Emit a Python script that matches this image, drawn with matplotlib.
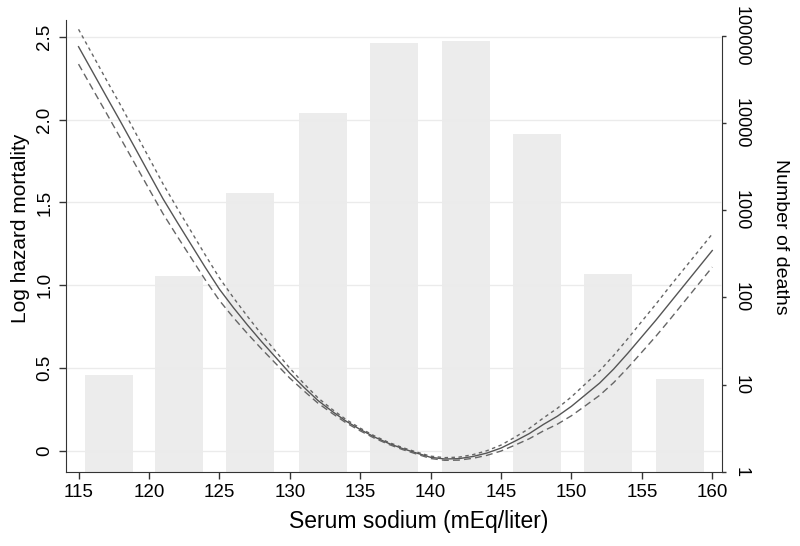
import numpy as np
import matplotlib
matplotlib.use("Agg")
import matplotlib.pyplot as plt

plt.rcParams['font.family'] = ['Liberation Sans', 'DejaVu Sans']

# spline estimate of log hazard vs serum sodium
sodium = list(range(115, 161))
log_hazard = [2.44, 2.288, 2.136, 1.985, 1.831, 1.676, 1.522, 1.382, 1.245, 1.108,
              0.977, 0.865, 0.76, 0.66, 0.565, 0.47, 0.385, 0.305, 0.24, 0.18,
              0.13, 0.085, 0.047, 0.015, -0.012, -0.038, -0.048, -0.046, -0.033, -0.012,
              0.018, 0.06, 0.105, 0.16, 0.21, 0.27, 0.34, 0.41, 0.495, 0.59,
              0.69, 0.79, 0.895, 1.0, 1.105, 1.21]
upper_ci = [2.545, 2.391, 2.236, 2.085, 1.928, 1.770, 1.612, 1.467, 1.325, 1.183,
            1.045, 0.925, 0.812, 0.704, 0.602, 0.50, 0.407, 0.321, 0.252, 0.19,
            0.138, 0.092, 0.053, 0.021, -0.006, -0.031, -0.040, -0.037, -0.022, 0.002,
            0.036, 0.084, 0.136, 0.199, 0.258, 0.327, 0.406, 0.484, 0.577, 0.678,
            0.783, 0.887, 0.995, 1.10, 1.205, 1.31]
lower_ci = [2.335, 2.185, 2.036, 1.885, 1.734, 1.582, 1.432, 1.297, 1.165, 1.033,
            0.909, 0.805, 0.708, 0.616, 0.528, 0.44, 0.363, 0.289, 0.228, 0.17,
            0.122, 0.078, 0.041, 0.009, -0.018, -0.045, -0.056, -0.055, -0.044, -0.026,
            0.0, 0.036, 0.074, 0.121, 0.162, 0.213, 0.274, 0.336, 0.413, 0.502,
            0.597, 0.693, 0.795, 0.90, 1.005, 1.11]

# histogram of deaths by sodium bin
bin_centers = [117.15, 122.15, 127.2, 132.35, 137.4, 142.5, 147.55, 152.6, 157.7]
deaths = [13, 177, 1590, 12900, 82000, 87000, 7400, 186, 11.5]

fig = plt.figure(figsize=(8, 5.46), dpi=100)
ax = fig.add_axes([0.0825, 0.136, 0.82, 0.827])
ax2 = ax.twinx()
ax.set_zorder(ax2.get_zorder() + 1)
ax.patch.set_visible(False)

ax2.bar(bin_centers, np.array(deaths) - 1, bottom=1, width=3.4,
        color='#ececec', edgecolor='none')
ax2.set_yscale('log')
ax2.set_ylim(1, 10 ** 5.18)
ax2.set_yticks([1, 10, 100, 1000, 10000, 100000])
ax2.set_yticklabels(['1', '10', '100', '1000', '10000', '100000'],
                    rotation=-90, va='center', fontsize=13)
ax2.minorticks_off()
ax2.set_ylabel('Number of deaths', rotation=-90, fontsize=14, labelpad=28)
ax2.yaxis.label.set_y(0.52)
ax2.spines['right'].set_bounds(1, 100000)

for v in [0, 0.5, 1.0, 1.5, 2.0, 2.5]:
    ax.axhline(v, color='#ebebeb', lw=1, zorder=0)

ax.plot(sodium, upper_ci, color='#666666', lw=1, ls=(0, (2.5, 2.5)))
ax.plot(sodium, log_hazard, color='#555555', lw=1)
ax.plot(sodium, lower_ci, color='#666666', lw=1, ls=(0, (5, 3)))

ax.set_xlim(114.11, 160.69)
ax.set_ylim(-0.125, 2.6)
ax.set_xticks(range(115, 161, 5))
ax.set_yticks([0, 0.5, 1.0, 1.5, 2.0, 2.5])
ax.set_yticklabels(['0', '0.5', '1.0', '1.5', '2.0', '2.5'],
                   rotation=90, va='center', fontsize=13.5)
ax.tick_params(axis='x', labelsize=13.5)
ax.set_xlabel('Serum sodium (mEq/liter)', fontsize=16.5, labelpad=6)
ax.xaxis.label.set_x(0.538)
ax.set_ylabel('Log hazard mortality', fontsize=15, labelpad=5)
ax.yaxis.label.set_y(0.54)

for a in (ax, ax2):
    a.spines['top'].set_visible(False)
    for s in a.spines.values():
        s.set_color('#333333')
ax.tick_params(length=5, width=1, color='#333333', pad=4)
ax2.tick_params(length=3, width=1, color='#333333', pad=5)
ax.spines['right'].set_visible(False)
ax2.spines['left'].set_visible(False)
ax2.spines['bottom'].set_visible(False)

fig.savefig('out.png', dpi=100)
